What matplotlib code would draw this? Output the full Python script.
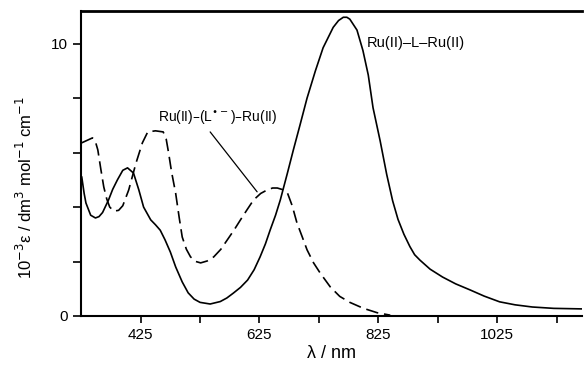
import numpy as np
import matplotlib
matplotlib.use("Agg")
import matplotlib.pyplot as plt

plt.rcParams['font.family'] = ['Liberation Sans', 'DejaVu Sans']

# Ru(II)-L-Ru(II) (solid curve), wavelength in nm, 10^-3 eps
wl_solid = [326, 330, 333, 341, 349, 355, 361, 371, 378, 386, 395, 403, 413,
            422, 430, 442, 450, 458, 466, 475, 484, 495, 505, 515, 525, 542,
            559, 570, 581, 593, 605, 616, 626, 635, 643, 652, 660, 672, 682,
            693, 705, 719, 732, 749, 758, 766, 772, 777, 789, 799, 808, 816,
            828, 839, 849, 858, 868, 878, 886, 895, 912, 933, 955, 979, 1003,
            1029, 1055, 1084, 1120, 1168]
eps_solid = [5.1, 4.5, 4.15, 3.7, 3.6, 3.65, 3.8, 4.26, 4.65, 5.0, 5.35,
             5.44, 5.25, 4.63, 4.0, 3.53, 3.35, 3.15, 2.8, 2.35, 1.8, 1.25,
             0.85, 0.62, 0.5, 0.44, 0.53, 0.66, 0.84, 1.05, 1.32, 1.7, 2.17,
             2.65, 3.16, 3.7, 4.26, 5.25, 6.1, 7.0, 8.0, 9.0, 9.85, 10.6,
             10.85, 10.97, 10.97, 10.9, 10.5, 9.75, 8.85, 7.65, 6.43, 5.2,
             4.23, 3.55, 3.0, 2.55, 2.25, 2.05, 1.72, 1.43, 1.18, 0.96, 0.73,
             0.52, 0.41, 0.33, 0.28, 0.26]

# Ru(II)-(L.-)-Ru(II) (dashed curve)
wl_dash = [326, 335, 344, 349, 353, 358, 363, 368, 373, 380, 388, 395, 405,
           417, 428, 437, 450, 463, 468, 472, 477, 484, 490, 495, 502, 509,
           518, 526, 537, 548, 560, 571, 582, 593, 604, 615, 627, 638, 647,
           655, 664, 672, 680, 688, 697, 705, 716, 727, 744, 760, 777, 800,
           823, 845]
eps_dash = [6.36, 6.45, 6.54, 6.4, 6.1, 5.4, 4.74, 4.3, 4.0, 3.85, 3.88,
            4.05, 4.63, 5.6, 6.36, 6.76, 6.8, 6.76, 6.5, 6.0, 5.3, 4.5, 3.6,
            2.9, 2.45, 2.17, 2.0, 1.95, 2.02, 2.17, 2.45, 2.8, 3.15, 3.53,
            3.9, 4.26, 4.5, 4.63, 4.7, 4.7, 4.64, 4.52, 4.05, 3.42, 2.9,
            2.43, 1.95, 1.58, 1.07, 0.72, 0.5, 0.28, 0.12, 0.03]

xticks = [425, 625, 825, 1025]
xminor = [525, 725, 925, 1125]
yticks = [0, 10]
yminor = [2, 4, 6, 8]

fig = plt.figure(figsize=(5.84, 3.67), dpi=100)
ax = fig.add_axes([0.139, 0.139, 0.858, 0.831])

ax.plot(wl_solid, eps_solid, color='black', lw=1.2)
ax.plot(wl_dash, eps_dash, color='black', lw=1.2, dashes=(7.5, 3.5))

ax.set_xlim(325, 1168)
ax.set_ylim(0, 11.2)
ax.set_xticks(xticks)
ax.set_xticks(xminor, minor=True)
ax.set_yticks(yticks)
ax.set_yticks(yminor, minor=True)
ax.tick_params(axis='both', which='both', direction='out', length=5,
               width=1.2, labelsize=11)
ax.tick_params(axis='y', which='both', length=6)

for s in ['left', 'bottom']:
    ax.spines[s].set_linewidth(1.5)
ax.spines['top'].set_linewidth(2)
ax.spines['right'].set_visible(False)

# labels on curves
ax.text(554, 7.32, r'Ru(II)–(L$^{\bullet -}$)–Ru(II)', ha='center',
        va='center', fontsize=10)
ax.annotate('', xy=(621, 4.56), xytext=(542, 6.76),
            arrowprops=dict(arrowstyle='-', color='black', lw=0.9,
                            shrinkA=0, shrinkB=0))
ax.text(805, 10.04, 'Ru(II)–L–Ru(II)', ha='left', va='center', fontsize=10.5)

ax.set_xlabel('λ / nm', fontsize=13, labelpad=2)
fig.text(0.043, 0.49, r'10$^{-3}$ε / dm$^3$ mol$^{-1}$ cm$^{-1}$',
         rotation=90, ha='center', va='center', fontsize=12)

fig.savefig('out.png', dpi=100)
